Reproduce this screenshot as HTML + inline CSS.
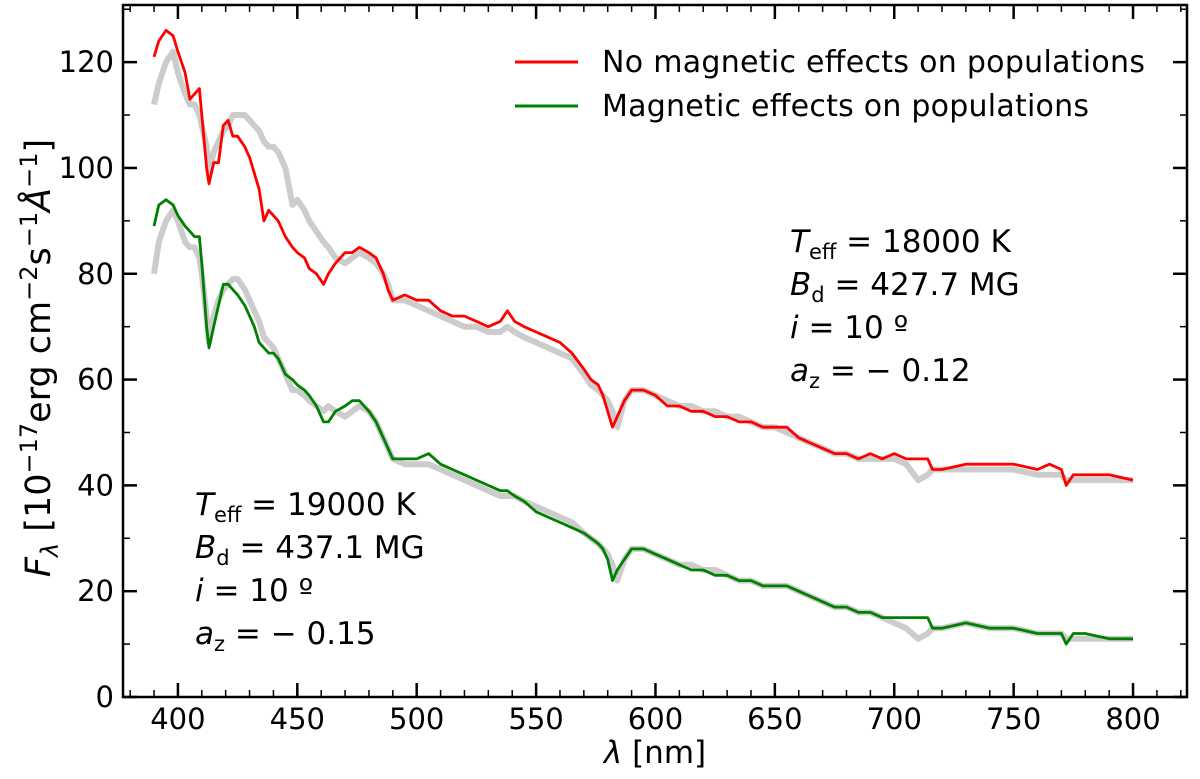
<!DOCTYPE html>
<html><head><meta charset="utf-8"><style>
body{margin:0;background:#fff}
svg{display:block;font-family:"DejaVu Sans","Liberation Sans",sans-serif}
</style></head><body>
<svg id="chart" width="1200" height="779" viewBox="0 0 1200 779">
<g id="marks"></g>
<rect x="123" y="5" width="1064" height="692" fill="none" stroke="#000" stroke-width="2.5"/>
<g id="ticks"></g>
<g font-size="30">
<line x1="515" y1="62" x2="578" y2="62" stroke="#ff0000" stroke-width="3"/>
<text x="602" y="72" textLength="543">No magnetic effects on populations</text>
<line x1="515" y1="106" x2="578" y2="106" stroke="#008000" stroke-width="3"/>
<text x="602" y="116" textLength="487">Magnetic effects on populations</text>
</g>
<g font-size="31">
<text x="790" y="252"><tspan font-style="italic">T</tspan><tspan font-size="21" dy="7">eff</tspan><tspan dy="-7"> = 18000 K</tspan></text>
<text x="790" y="295"><tspan font-style="italic">B</tspan><tspan font-size="21" dy="7">d</tspan><tspan dy="-7"> = 427.7 MG</tspan></text>
<text x="790" y="338"><tspan font-style="italic">i</tspan> = 10 º</text>
<text x="790" y="381"><tspan font-style="italic">a</tspan><tspan font-size="21" dy="7">z</tspan><tspan dy="-7"> =  − 0.12</tspan></text>
</g>
<g font-size="31">
<text x="195" y="515"><tspan font-style="italic">T</tspan><tspan font-size="21" dy="7">eff</tspan><tspan dy="-7"> = 19000 K</tspan></text>
<text x="195" y="558"><tspan font-style="italic">B</tspan><tspan font-size="21" dy="7">d</tspan><tspan dy="-7"> = 437.1 MG</tspan></text>
<text x="195" y="601"><tspan font-style="italic">i</tspan> = 10 º</text>
<text x="195" y="644"><tspan font-style="italic">a</tspan><tspan font-size="21" dy="7">z</tspan><tspan dy="-7"> =  − 0.15</tspan></text>
</g>
<text x="655" y="763" font-size="31" text-anchor="middle"><tspan font-style="italic">λ</tspan> [nm]</text>
<text transform="translate(50,358) rotate(-90)" font-size="35" text-anchor="middle"><tspan font-style="italic">F</tspan><tspan font-style="italic" font-size="24" dy="8">λ</tspan><tspan dy="-8">  [10</tspan><tspan font-size="24" dy="-13">−17</tspan><tspan dy="13">erg cm</tspan><tspan font-size="24" dy="-13">−2</tspan><tspan dy="13">s</tspan><tspan font-size="24" dy="-13">−1</tspan><tspan font-style="italic" dy="13">Å</tspan><tspan font-size="24" dy="-13">−1</tspan><tspan dy="13">]</tspan></text>
</svg>
<script>
const lam = [390,392,395,398,400,403,405,407,409,410,412,413,415,417,419,421,423,425,428,430,432,434,436,438,440,442,445,448,450,453,455,458,461,463,466,470,473,476,480,483,486,488,490,495,500,505,510,515,520,525,530,535,538,541,545,550,555,560,565,570,573,576,578,580,582,584,587,590,595,600,605,610,615,620,625,630,635,640,645,650,655,660,665,670,675,680,685,690,695,700,705,710,714,716,720,730,740,750,760,765,770,772,775,780,790,800];
const redModel = [121,124,126,125,122,118,113,114,115,110,100,97,101,101,108,109,106,106,104,102,99,96,90,92,91,90,87,85,84,83,81,80,78,80,82,84,84,85,84,83,80,77,75,76,75,75,73,72,72,71,70,71,73,71,70,69,68,67,65,62,60,59,57,54,51,53,56,58,58,57,55,55,54,54,53,53,52,52,51,51,51,49,48,47,46,46,45,46,45,46,45,45,45,43,43,44,44,44,43,44,43,40,42,42,42,41];
const greenModel = [89,93,94,93,91,89,88,87,87,82,70,66,70,74,78,78,77,76,74,72,70,67,66,65,65,64,61,60,59,58,57,55,52,52,54,55,56,56,54,52,49,47,45,45,45,46,44,43,42,41,40,39,39,38,37,35,34,33,32,31,30,29,28,26,22,24,26,28,28,27,26,25,24,24,23,23,22,22,21,21,21,20,19,18,17,17,16,16,15,15,15,15,15,13,13,14,13,13,12,12,12,10,12,12,11,11];
const grayUpper = [112,116,120,122,118,114,112,112,110,108,104,99,103,105,107,108,110,110,110,109,108,107,105,104,104,103,100,93,94,92,90,88,86,85,83,82,83,84,83,82,80,78,75,75,74,73,72,71,70,70,69,69,70,69,68,67,66,65,64,61,59,58,57,56,54,51,56,58,58,57,56,55,55,54,54,53,53,52,51,51,50,49,48,47,46,46,45,45,45,45,44,41,42,43,43,43,43,43,42,42,42,41,41,41,41,41];
const grayLower = [80,86,90,92,90,86,85,85,83,80,72,67,72,75,77,78,79,79,77,75,73,71,68,67,66,64,61,58,58,57,56,55,54,55,54,53,54,55,54,52,49,47,45,44,44,44,43,42,41,40,39,38,38,38,37,36,35,34,33,31,30,29,28,27,25,22,26,28,28,27,26,25,25,24,24,23,22,22,21,21,21,20,19,18,17,17,16,16,15,14,13,11,12,13,13,14,13,13,12,12,12,11,11,11,11,11];
const xTicks = [400,450,500,550,600,650,700,750,800];
const yTicks = [0,20,40,60,80,100,120];
const NS = "http://www.w3.org/2000/svg";
const X0=123,X1=1187,Y0=697,Y1=5;
const xmin=377,xmax=822.6,ymin=0,ymax=130.8;
const xs = v => X0 + (v-xmin)/(xmax-xmin)*(X1-X0);
const ys = v => Y0 - (v-ymin)/(ymax-ymin)*(Y0-Y1);
const marks = document.getElementById('marks');
function path(vals, color, w, name){
  const p = document.createElementNS(NS,'path');
  p.setAttribute('d', vals.map((v,i)=>(i?'L':'M')+xs(lam[i]).toFixed(1)+' '+ys(v).toFixed(1)).join(' '));
  p.setAttribute('fill','none'); p.setAttribute('stroke',color); p.setAttribute('stroke-width',w);
  p.setAttribute('stroke-linejoin','round');
  
  
  marks.appendChild(p);
}
path(grayUpper,'#cccccc',6,'observed-spectrum-upper');
path(grayLower,'#cccccc',6,'observed-spectrum-lower');
path(redModel,'#ff0000',2.8,'series-no-magnetic');
path(greenModel,'#008000',2.8,'series-magnetic');
const tg = document.getElementById('ticks');
function line(x1,y1,x2,y2,w){
  const l=document.createElementNS(NS,'line');
  l.setAttribute('x1',x1);l.setAttribute('y1',y1);l.setAttribute('x2',x2);l.setAttribute('y2',y2);
  l.setAttribute('stroke','#000');l.setAttribute('stroke-width',w);
  
  
  tg.appendChild(l);
}
function txt(x,y,s,anchor){
  const t=document.createElementNS(NS,'text');
  t.setAttribute('x',x);t.setAttribute('y',y);t.setAttribute('font-size','29');t.setAttribute('text-anchor',anchor);
  t.textContent=s;
  
  
  tg.appendChild(t);
}
for(let v=380; v<=820; v+=10){
  const x=xs(v), major = v%50===0;
  const L = major?14:7;
  line(x,Y0,x,Y0-L,major?2.5:1.5); line(x,Y1,x,Y1+L,major?2.5:1.5);
}
xTicks.forEach(v=>txt(xs(v),Y0+32,String(v),'middle'));
for(let v=0; v<=130; v+=10){
  const y=ys(v), major=v%20===0;
  const L = major?14:7;
  line(X0,y,X0+L,y,major?2.5:1.5); line(X1,y,X1-L,y,major?2.5:1.5);
}
yTicks.forEach(v=>txt(X0-9,ys(v)+10,String(v),'end'));
</script>
</body></html>
